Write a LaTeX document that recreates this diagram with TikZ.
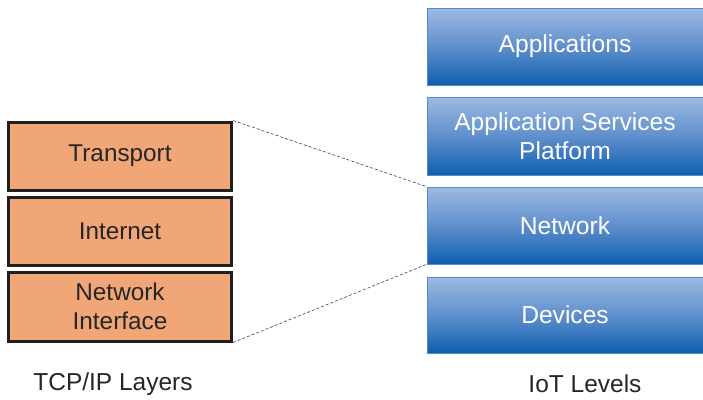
\documentclass[tikz,border=0pt]{standalone}
\usepackage{fontspec}
\setmainfont{Liberation Sans}
\begin{document}
\begin{tikzpicture}[x=1pt,y=-1pt,
  tcpbox/.style={draw=black!88, line width=3pt, fill=orangebox, minimum width=223pt, inner sep=0pt, align=center, text=black!85, font=\fontsize{24.3}{29}\selectfont},
  iotbox/.style={draw=bluebox!80, line width=0.6pt, top color=bluetop, bottom color=bluebot, middle color=bluemid, shading angle=0, minimum width=276pt, inner sep=0pt, align=center, text=white, font=\fontsize{24.6}{29}\selectfont},
  lbl/.style={text=black!85, font=\fontsize{24.5}{27}\selectfont, inner sep=0pt},
  link/.style={densely dashed, draw=black!75, line width=0.6pt}]
\definecolor{orangebox}{HTML}{F0A676}
\definecolor{bluetop}{HTML}{9DBAE2}
\definecolor{bluemid}{HTML}{5F8FCC}
\definecolor{bluebot}{HTML}{0E5FAF}
\definecolor{bluebox}{HTML}{2C6FB6}
\useasboundingbox (0,0) rectangle (703,399);
\node[tcpbox, minimum height=68pt] (t) at (120,156) {Transport};
\node[tcpbox, minimum height=68pt] (i) at (120,231) {Internet};
\node[tcpbox, minimum height=69pt] (ni) at (120,306.5) {Network\\Interface};
\node[iotbox, minimum height=77pt] (ap) at (565,46.5) {Applications};
\node[iotbox, minimum height=78pt] (as) at (565,136) {Application Services\\Platform};
\node[iotbox, minimum height=77pt] (nw) at (565,225.5) {Network};
\node[iotbox, minimum height=76pt] (dv) at (565,315) {Devices};
\draw[link] (t.north east) -- (nw.north west);
\draw[link] (ni.south east) -- (nw.south west);
\node[lbl] (l1) at (113,384) {TCP/IP Layers};
\node[lbl] (l2) at (585,384) {IoT Levels};
\end{tikzpicture}
\end{document}
